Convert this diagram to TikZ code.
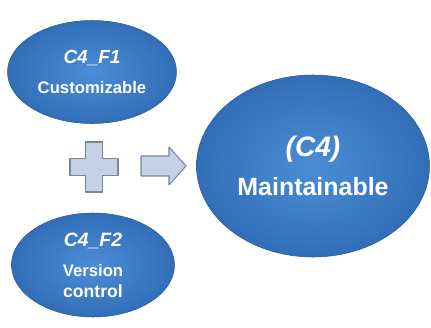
\documentclass[tikz,border=0pt]{standalone}
\usepackage{fontspec}
\setmainfont{Liberation Sans}
\usetikzlibrary{shapes.geometric}
\definecolor{ballin}{RGB}{74,142,214}
\definecolor{ballout}{RGB}{50,110,184}
\definecolor{signfill}{RGB}{196,210,228}
\definecolor{signedge}{RGB}{118,134,160}
\tikzset{ball/.style={shape=ellipse,inner sep=0pt,shading=radial,inner color=ballin,outer color=ballout,
    draw=ballout!80!black,line width=0.3pt,text=white,align=center,font=\bfseries}}

\begin{document}
\begin{tikzpicture}[thick,sign/.style={fill=signfill,draw=signedge,line width=0.6pt,line join=round}]
    \useasboundingbox (0,0) rectangle (8.62,6.54);
    \node[ball,minimum width=3.38cm,minimum height=2.06cm] (F1) at (1.84,5.10)
        {\fontsize{10.8}{12}\selectfont\itshape C4\_F1\\[5pt]\fontsize{9.5}{10.5}\selectfont Customizable};
    \node[ball,minimum width=3.26cm,minimum height=2.08cm] (F2) at (1.86,1.24)
        {\fontsize{11}{12}\selectfont\itshape C4\_F2\\[5pt]\fontsize{9.5}{10.3}\selectfont Version\\control};
    \node[ball,minimum width=4.66cm,minimum height=3.64cm] (C4) at (6.26,3.22)
        {\fontsize{16}{17}\selectfont\itshape (C4)\\[8pt]\fontsize{14.2}{15}\selectfont Maintainable};

    % plus sign
    \draw[sign] (1.71,3.70) -- (2.05,3.70) -- (2.05,3.37) -- (2.36,3.37) -- (2.36,3.03)
        -- (2.05,3.03) -- (2.05,2.70) -- (1.71,2.70) -- (1.71,3.03) -- (1.40,3.03)
        -- (1.40,3.37) -- (1.71,3.37) -- cycle;
    % arrow
    \draw[sign] (2.82,3.42) -- (3.38,3.42) -- (3.38,3.60) -- (3.72,3.22) -- (3.38,2.84)
        -- (3.38,3.02) -- (2.82,3.02) -- cycle;
\end{tikzpicture}
\end{document}
